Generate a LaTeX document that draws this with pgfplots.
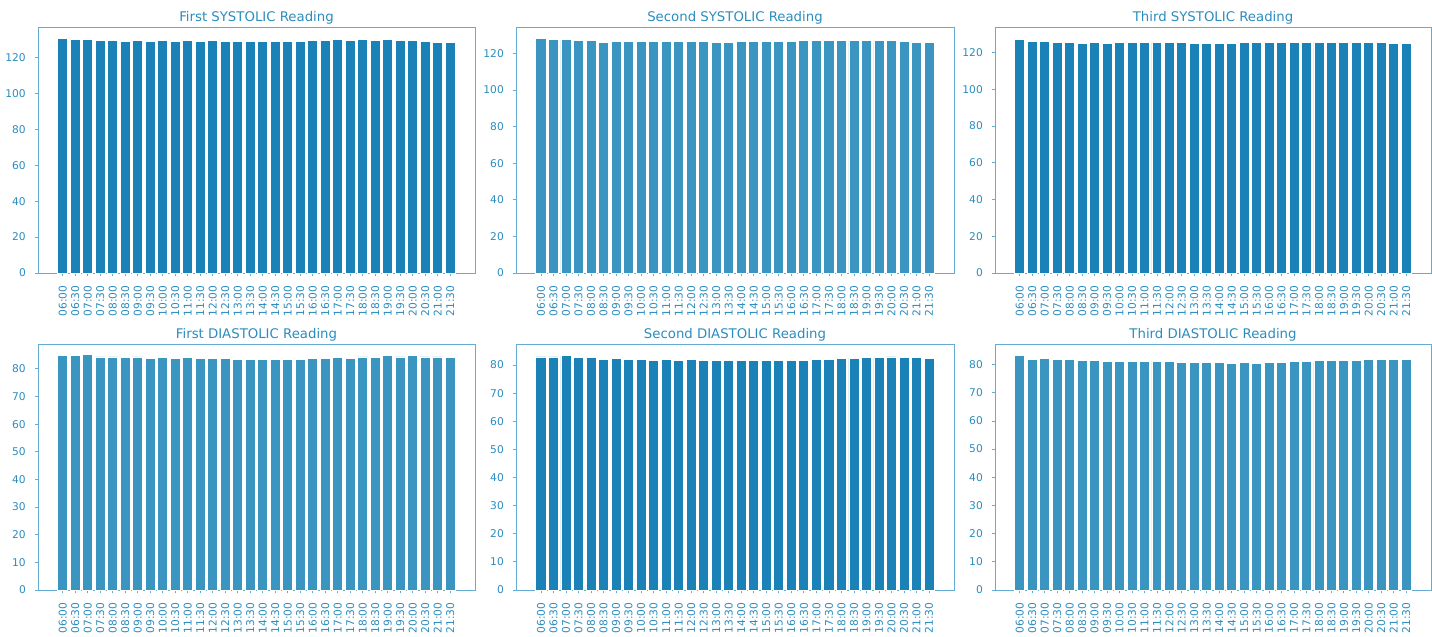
\documentclass[border=0pt]{standalone}
\usepackage{pgfplots}
\pgfplotsset{compat=1.18}
\usepackage{pgfplotstable}
\usepackage{fontspec}
\setmainfont{DejaVu Sans}
\definecolor{darkbar}{RGB}{26,130,182}
\definecolor{lightbar}{RGB}{58,150,192}
\definecolor{txtc}{RGB}{42,140,190}
\definecolor{spine}{RGB}{100,172,212}
\pgfplotstableread{
x s1 s2 s3 d1 d2 d3
0 130.5 128.0 127.3 84.7 82.9 83.1
1 130.1 127.5 126.0 84.7 82.9 81.9
2 130.1 127.5 126.0 85.1 83.3 82.3
3 129.6 127.0 125.6 84.3 82.6 81.9
4 129.6 127.0 125.3 84.3 82.6 81.9
5 129.0 126.0 124.9 84.0 82.1 81.3
6 129.6 126.5 125.3 84.3 82.4 81.3
7 129.0 126.5 124.9 83.8 82.1 81.1
8 129.6 126.5 125.3 84.0 82.1 81.1
9 129.0 126.5 125.3 83.8 81.8 81.1
10 129.6 126.5 125.3 84.0 82.1 81.1
11 129.0 126.5 125.3 83.8 81.8 81.1
12 129.6 126.5 125.3 83.8 82.1 81.1
13 129.0 126.5 125.3 83.8 81.8 80.7
14 129.0 126.0 124.9 83.4 81.8 80.7
15 129.0 126.0 124.9 83.4 81.5 80.7
16 129.0 126.5 124.9 83.4 81.8 80.7
17 129.0 126.5 124.9 83.4 81.5 80.5
18 129.0 126.5 125.3 83.4 81.8 80.7
19 129.0 126.5 125.3 83.4 81.5 80.5
20 129.6 126.5 125.3 83.8 81.8 80.7
21 129.6 127.0 125.3 83.8 81.8 80.7
22 130.1 127.0 125.3 84.0 82.1 81.1
23 129.6 127.0 125.6 83.8 82.1 81.1
24 130.1 127.0 125.6 84.3 82.4 81.3
25 129.6 127.0 125.6 84.0 82.4 81.3
26 130.1 127.0 125.6 84.7 82.6 81.5
27 129.6 127.0 125.6 84.3 82.6 81.5
28 129.6 127.0 125.3 84.7 82.9 81.9
29 129.0 126.5 125.3 84.3 82.6 81.9
30 128.6 126.0 124.9 84.3 82.6 81.7
31 128.6 125.8 124.9 84.0 82.4 81.7
}\bp
\pgfplotsset{
  every axis title shift=0pt,
  panel/.style={
    scale only axis,
    anchor=south west,
    height=177.12bp,
    xmin=-1.99, xmax=32.99,
    ymin=0,
    axis line style={spine, line width=0.6bp},
    tick style={spine, line width=0.6bp},
    tick align=outside,
    major tick length=2.5bp,
    xtick pos=bottom, ytick pos=left,
    xtick={0,...,31},
    xticklabels={06:00,06:30,07:00,07:30,08:00,08:30,09:00,09:30,10:00,10:30,11:00,11:30,12:00,12:30,13:00,13:30,14:00,14:30,15:00,15:30,16:00,16:30,17:00,17:30,18:00,18:30,19:00,19:30,20:00,20:30,21:00,21:30},
    xticklabel style={yshift=-6.5bp, rotate=90, anchor=east, inner sep=0pt},
    yticklabel style={anchor=east, inner sep=0pt, xshift=-6.1bp},
    tick label style={font=\fontsize{7.7}{9}\selectfont, text=txtc},
    /pgf/number format/assume math mode=true,
    title style={at={(0.5,1)}, anchor=base, yshift=3.8bp, inner sep=0pt, font=\fontsize{9.6}{11}\selectfont, text=txtc},
    ybar, bar width=0.8, bar shift=0pt,
    clip=false,
  },
  sys/.style={ytick={0,20,...,120}},
  dia/.style={ytick={0,10,...,80}},
}
\begin{document}
\begin{tikzpicture}
\path[use as bounding box] (0,0) rectangle (1031.04bp,458.64bp);
% top row
\begin{axis}[panel, sys, at={(27.36bp,262.08bp)}, width=314.64bp, ymax=137.0, title={First SYSTOLIC Reading}]
\addplot[fill=darkbar, draw=white, line width=0.6bp] table[x=x, y=s1] {\bp};
\end{axis}
\begin{axis}[panel, sys, at={(371.52bp,262.08bp)}, width=315.36bp, ymax=134.4, title={Second SYSTOLIC Reading}]
\addplot[fill=lightbar, draw=white, line width=0.6bp] table[x=x, y=s2] {\bp};
\end{axis}
\begin{axis}[panel, sys, at={(716.4bp,262.08bp)}, width=313.92bp, ymax=133.9, title={Third SYSTOLIC Reading}]
\addplot[fill=darkbar, draw=white, line width=0.6bp] table[x=x, y=s3] {\bp};
\end{axis}
% bottom row
\begin{axis}[panel, dia, at={(27.36bp,33.84bp)}, width=314.64bp, ymax=89.0, title={First DIASTOLIC Reading}]
\addplot[fill=lightbar, draw=white, line width=0.6bp] table[x=x, y=d1] {\bp};
\end{axis}
\begin{axis}[panel, dia, at={(371.52bp,33.84bp)}, width=315.36bp, ymax=87.5, title={Second DIASTOLIC Reading}]
\addplot[fill=darkbar, draw=white, line width=0.6bp] table[x=x, y=d2] {\bp};
\end{axis}
\begin{axis}[panel, dia, at={(716.4bp,33.84bp)}, width=313.92bp, ymax=87.3, title={Third DIASTOLIC Reading}]
\addplot[fill=lightbar, draw=white, line width=0.6bp] table[x=x, y=d3] {\bp};
\end{axis}
\end{tikzpicture}
\end{document}
